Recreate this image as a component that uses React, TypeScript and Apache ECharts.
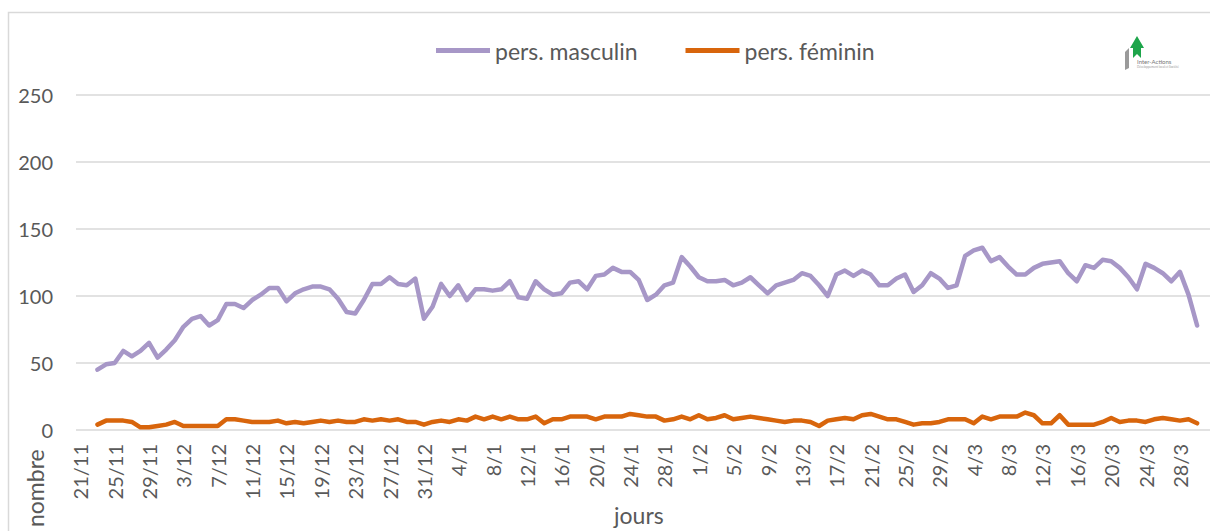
import React, { useEffect, useRef } from "react";
import * as echarts from "echarts";

// Month spans of the axis: [month, firstDay, lastDay]
const MONTH_SPANS: number[][] = [
  [11, 21, 30],
  [12, 1, 31],
  [1, 1, 31],
  [2, 1, 29],
  [3, 1, 31],
];
const categories: string[] = [];
MONTH_SPANS.forEach(([m, a, b]) => {
  for (let d = a; d <= b; d++) categories.push(`${d}/${m}`);
});

const FIRST_DAY = "23/11";
const SERIES_NAMES = ["pers. masculin", "pers. féminin"];

const masculin: number[] = [
  45, 49, 50, 59, 55, 59, 65, 54, 60, 67, 77, 83, 85, 78, 82, 94, 94, 91, 97, 101,
  106, 106, 96, 102, 105, 107, 107, 105, 98, 88, 87, 97, 109, 109, 114, 109, 108, 113, 83, 92,
  109, 100, 108, 97, 105, 105, 104, 105, 111, 99, 98, 111, 105, 101, 102, 110, 111, 105, 115, 116,
  121, 118, 118, 112, 97, 101, 108, 110, 129, 122, 114, 111, 111, 112, 108, 110, 114, 108, 102, 108,
  110, 112, 117, 115, 108, 100, 116, 119, 115, 119, 116, 108, 108, 113, 116, 103, 108, 117, 113, 106,
  108, 130, 134, 136, 126, 129, 122, 116, 116, 121, 124, 125, 126, 117, 111, 123, 121, 127, 126, 121,
  114, 105, 124, 121, 117, 111, 118, 101, 78,
];

const feminin: number[] = [
  4, 7, 7, 7, 6, 2, 2, 3, 4, 6, 3, 3, 3, 3, 3, 8, 8, 7, 6, 6,
  6, 7, 5, 6, 5, 6, 7, 6, 7, 6, 6, 8, 7, 8, 7, 8, 6, 6, 4, 6,
  7, 6, 8, 7, 10, 8, 10, 8, 10, 8, 8, 10, 5, 8, 8, 10, 10, 10, 8, 10,
  10, 10, 12, 11, 10, 10, 7, 8, 10, 8, 11, 8, 9, 11, 8, 9, 10, 9, 8, 7,
  6, 7, 7, 6, 3, 7, 8, 9, 8, 11, 12, 10, 8, 8, 6, 4, 5, 5, 6, 8,
  8, 8, 5, 10, 8, 10, 10, 10, 13, 11, 5, 5, 11, 4, 4, 4, 4, 6, 9, 6,
  7, 7, 6, 8, 9, 8, 7, 8, 5,
];

const Y_MAX = 250;
const Y_STEP = 50;

function align(values: number[]): (number | null)[] {
  const start = categories.indexOf(FIRST_DAY);
  return categories.map((_, i) => {
    const k = i - start;
    return k >= 0 && k < values.length ? values[k] : null;
  });
}

const FONT = "Lato, 'Open Sans', sans-serif";
const GREY = "#595959";

export default function App() {
  const ref = useRef<HTMLDivElement>(null);
  useEffect(() => {
    if (!ref.current) return;
    const chart = echarts.init(ref.current, undefined, { renderer: "svg" });
    chart.setOption({
      animation: false,
      backgroundColor: "#ffffff",
      textStyle: { fontFamily: FONT },
      grid: { left: 76, right: 0, top: 95, bottom: 101, containLabel: false },
      legend: {
        left: 431,
        top: 34,
        itemWidth: 54,
        itemHeight: 5,
        itemGap: 48,
        icon: "rect",
        textStyle: { color: GREY, fontSize: 23, fontFamily: FONT },
        data: SERIES_NAMES,
      },
      xAxis: {
        type: "category",
        data: categories,
        boundaryGap: true,
        axisLine: { show: false },
        axisTick: { show: false },
        axisLabel: {
          interval: 3,
          rotate: 90,
          margin: 14,
          color: GREY,
          fontSize: 20,
          fontFamily: FONT,
        },
        splitLine: { show: false },
      },
      yAxis: {
        type: "value",
        min: 0,
        max: Y_MAX,
        interval: Y_STEP,
        axisLine: { show: false },
        axisTick: { show: false },
        axisLabel: { color: GREY, fontSize: 20, margin: 23, fontFamily: FONT },
        splitLine: { lineStyle: { color: "#D9D9D9", width: 1.5 } },
      },
      series: [
        {
          name: SERIES_NAMES[0],
          type: "line",
          data: align(masculin),
          symbol: "none",
          color: "#A797C7",
          lineStyle: { width: 4.5, color: "#A797C7", join: "round", cap: "round" },
        },
        {
          name: SERIES_NAMES[1],
          type: "line",
          data: align(feminin),
          symbol: "none",
          color: "#D8650C",
          lineStyle: { width: 4.5, color: "#D8650C", join: "round", cap: "round" },
        },
      ],
      graphic: [
        {
          type: "rect",
          silent: true,
          shape: { x: 8.5, y: 12.5, width: 1220, height: 540 },
          style: { fill: "none", stroke: "#D9D9D9", lineWidth: 1.5 },
        },
        {
          type: "text",
          left: 614,
          top: 503,
          style: { text: "jours", fill: GREY, fontSize: 23, fontFamily: FONT },
        },
        {
          type: "text",
          x: 23,
          y: 527,
          rotation: Math.PI / 2,
          style: { text: "nombre", fill: GREY, fontSize: 23, fontFamily: FONT },
        },
        {
          type: "polygon",
          shape: { points: [[1130, 48], [1137, 36], [1144, 48], [1141, 48], [1141, 58], [1137, 54], [1133, 58], [1133, 48]] },
          style: { fill: "#1DA54A" },
        },
        {
          type: "polygon",
          shape: { points: [[1125, 52], [1129, 48], [1129, 68], [1125, 70]] },
          style: { fill: "#9A9A9A" },
        },
        {
          type: "text",
          x: 1137,
          y: 58,
          style: { text: "Inter-Actions", fill: "#777", fontSize: 6, fontFamily: FONT },
        },
        {
          type: "text",
          x: 1137,
          y: 65,
          style: { text: "Développement local et Société", fill: "#999", fontSize: 3, fontFamily: FONT },
        },
      ],
    });
    return () => chart.dispose();
  }, []);
  return (
    <div
      ref={ref}
      style={{ position: "fixed", left: 0, top: 0, width: 1210, height: 531, background: "#fff" }}
    />
  );
}
